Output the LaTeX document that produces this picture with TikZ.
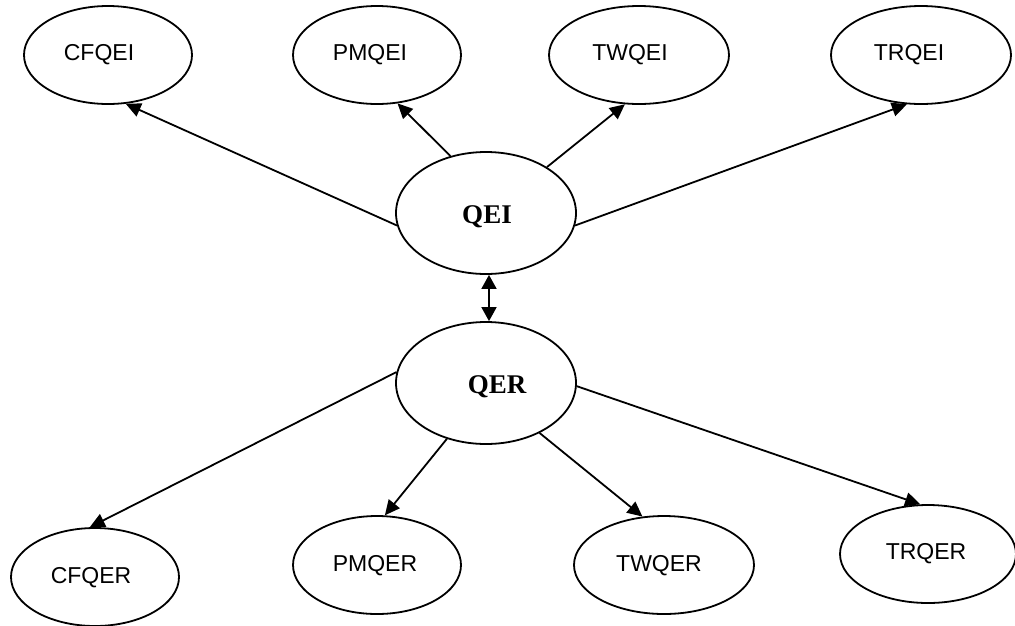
\documentclass[tikz,border=0pt]{standalone}
\usepackage{fontspec}
\setmainfont{Liberation Sans}
\newfontfamily\serifbold{Liberation Serif}
\usetikzlibrary{shapes.geometric,arrows.meta}
\begin{document}
\begin{tikzpicture}[x=1pt,y=-1pt,
  ell/.style={draw,ellipse,line width=1.8pt,inner sep=0pt,minimum height=98pt},
  bigell/.style={draw,ellipse,line width=1.8pt,inner sep=0pt,minimum height=122pt,minimum width=180pt},
  lab/.style={font=\fontsize{23}{27}\selectfont,inner sep=0pt,anchor=base},
  big/.style={font=\serifbold\bfseries\fontsize{27}{32}\selectfont,inner sep=0pt,anchor=base},
  conn/.style={line width=1.8pt,-{Triangle[length=15pt,width=14pt]}},
  dbl/.style={line width=1.8pt,{Triangle[length=14pt,width=15pt]}-{Triangle[length=14pt,width=15pt]}}]
\useasboundingbox (0,0) rectangle (1015,625);
% ellipses
\node[ell,minimum width=168pt] (cfqei) at (108,55) {};
\node[ell,minimum width=168pt] (pmqei) at (377,55) {};
\node[ell,minimum width=180pt] (twqei) at (639,55) {};
\node[ell,minimum width=180pt] (trqei) at (921,55) {};
\node[bigell] (qei) at (486,213) {};
\node[bigell] (qer) at (486,383) {};
\node[ell,minimum width=168pt] (cfqer) at (95,577) {};
\node[ell,minimum width=168pt] (pmqer) at (377,565) {};
\node[ell,minimum width=180pt] (twqer) at (664,565) {};
\node[ell,minimum width=176pt] (trqer) at (928,554) {};
% labels
\node[lab] (cfqeit) at (99,60) {CFQEI};
\node[lab] (pmqeit) at (370,60) {PMQEI};
\node[lab] (twqeit) at (630,60) {TWQEI};
\node[lab] (trqeit) at (909,60) {TRQEI};
\node[big] (qeit) at (487,223) {QEI};
\node[big] (qert) at (497,393) {QER};
\node[lab] (cfqert) at (91,583) {CFQER};
\node[lab] (pmqert) at (375,571) {PMQER};
\node[lab] (twqert) at (659,571) {TWQER};
\node[lab] (trqert) at (926,559) {TRQER};
% connectors
\draw[conn] (qei.188) -- (cfqei.290);
\draw[conn] (qei.122) -- (pmqei.293);
\draw[conn] (qei.37) -- (twqei.254);
\draw[conn] (qei.352) -- (trqei.254);
\draw[dbl] ([xshift=3pt]qei.south) -- ([xshift=3pt]qer.north);
\draw[conn] (qer.173) -- (cfqer.96);
\draw[conn] (qer.235) -- (pmqer.81);
\draw[conn] (qer.317) -- (twqer.114);
\draw[conn] (qer.358) -- (trqer.99);
\end{tikzpicture}
\end{document}
